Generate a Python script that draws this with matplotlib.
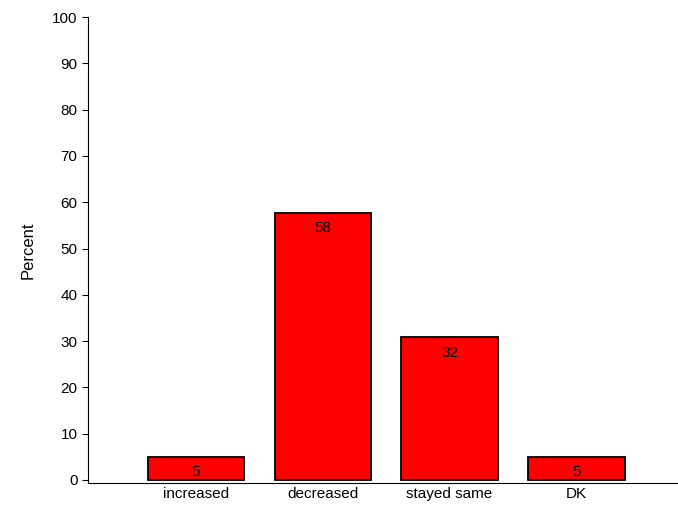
import matplotlib
matplotlib.use("Agg")
import matplotlib.pyplot as plt

categories = ["increased", "decreased", "stayed same", "DK"]
values = [5, 57.7, 30.8, 5]
labels = ["5", "58", "32", "5"]

plt.rcParams['font.family'] = ['Liberation Sans', 'DejaVu Sans']
fig = plt.figure(figsize=(6.78, 5.08), dpi=100)
ax = fig.add_axes([0.1298, 0.0492, 0.8702, 0.9173])
x = list(range(len(categories)))
ax.bar(x, values, width=0.76, color="#ff0000", edgecolor="black", linewidth=1.3)
for xi, v, l in zip(x, values, labels):
    ax.text(xi, v - 1.8, l, ha="center", va="top", fontsize=11)
ax.set_xlim(-0.85, 3.8)
ax.set_ylim(-0.65, 100)
ax.set_yticks(range(0, 101, 10))
ax.set_xticks(x)
ax.set_xticklabels(categories, fontsize=11)
ax.tick_params(axis='y', labelsize=11, length=4, direction='out')
ax.tick_params(axis='x', length=0, pad=3)
for s in ["top", "right"]:
    ax.spines[s].set_visible(False)
ax.set_ylabel("Percent", fontsize=12, labelpad=12)
fig.savefig("out.png", dpi=100)
